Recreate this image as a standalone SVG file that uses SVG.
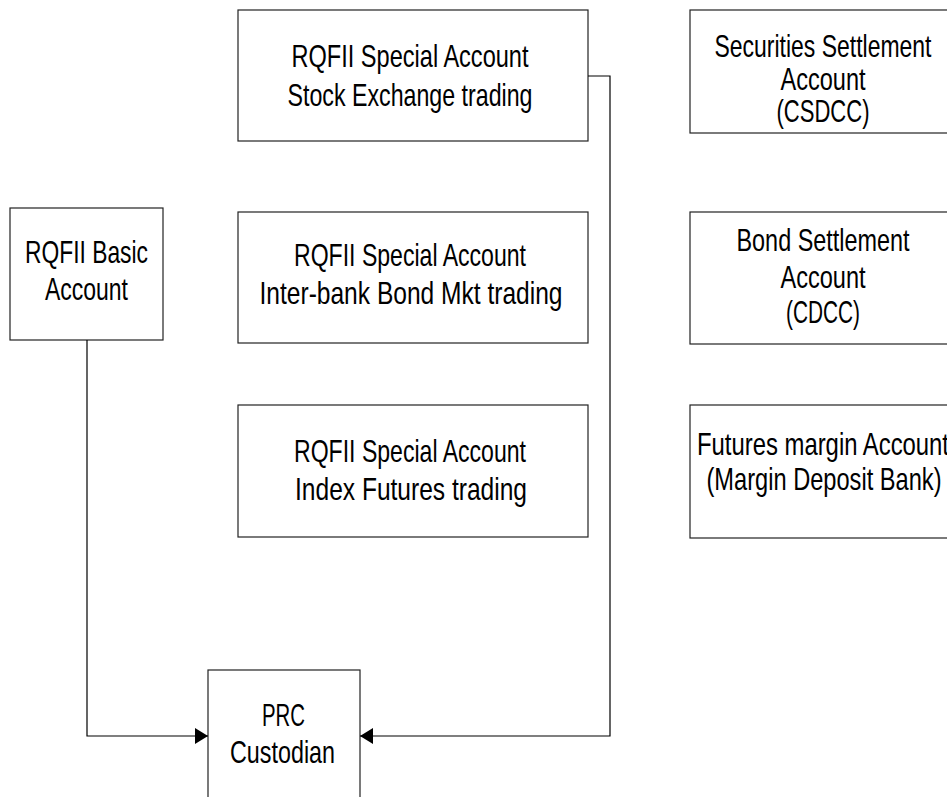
<svg xmlns="http://www.w3.org/2000/svg" width="947" height="797" viewBox="0 0 947 797">
<style>
rect.box{fill:#fff;stroke:#222;stroke-width:1.2}
text{font-family:"Liberation Sans Narrow","Liberation Sans",Arial,sans-serif;font-size:32px;fill:#000;text-anchor:middle}
.conn{fill:none;stroke:#000;stroke-width:1.2}
</style>
<defs>
<marker id="arr" markerUnits="userSpaceOnUse" markerWidth="14" markerHeight="18" viewBox="0 0 14 18" refX="13" refY="9" orient="auto">
<path d="M0,1 L13,9 L0,17 Z" fill="#000"/>
</marker>
</defs>
<rect width="947" height="797" fill="#fff"/>
<g id="stock">
<rect class="box" x="238" y="10" width="350" height="131"/>
<text x="410" y="67" textLength="237" lengthAdjust="spacingAndGlyphs">RQFII Special Account</text>
<text x="410" y="106" textLength="245" lengthAdjust="spacingAndGlyphs">Stock Exchange trading</text>
</g>
<g id="interbank">
<rect class="box" x="238" y="212" width="350" height="131"/>
<text x="410" y="266" textLength="232" lengthAdjust="spacingAndGlyphs">RQFII Special Account</text>
<text x="411" y="304" textLength="303" lengthAdjust="spacingAndGlyphs">Inter-bank Bond Mkt trading</text>
</g>
<g id="futures">
<rect class="box" x="238" y="405" width="350" height="132"/>
<text x="410" y="462" textLength="232" lengthAdjust="spacingAndGlyphs">RQFII Special Account</text>
<text x="411" y="500" textLength="232" lengthAdjust="spacingAndGlyphs">Index Futures trading</text>
</g>
<g id="sec">
<rect class="box" x="690" y="10" width="270" height="123"/>
<text x="823" y="57" textLength="217" lengthAdjust="spacingAndGlyphs">Securities Settlement</text>
<text x="823" y="90" textLength="85" lengthAdjust="spacingAndGlyphs">Account</text>
<text x="823" y="122" textLength="93" lengthAdjust="spacingAndGlyphs">(CSDCC)</text>
</g>
<g id="bond">
<rect class="box" x="690" y="212" width="270" height="132"/>
<text x="823" y="251" textLength="173" lengthAdjust="spacingAndGlyphs">Bond Settlement</text>
<text x="823" y="288" textLength="85" lengthAdjust="spacingAndGlyphs">Account</text>
<text x="823" y="323" textLength="74" lengthAdjust="spacingAndGlyphs">(CDCC)</text>
</g>
<g id="margin">
<rect class="box" x="690" y="405" width="270" height="133"/>
<text x="823" y="455" textLength="252" lengthAdjust="spacingAndGlyphs">Futures margin Account</text>
<text x="824" y="490" textLength="235" lengthAdjust="spacingAndGlyphs">(Margin Deposit Bank)</text>
</g>
<g id="basic">
<rect class="box" x="10" y="208" width="153" height="132"/>
<text x="86.5" y="263" textLength="123" lengthAdjust="spacingAndGlyphs">RQFII Basic</text>
<text x="86.5" y="300" textLength="83" lengthAdjust="spacingAndGlyphs">Account</text>
</g>
<g id="prc">
<rect class="box" x="208" y="670" width="152" height="140"/>
<text x="283.5" y="726" textLength="43" lengthAdjust="spacingAndGlyphs">PRC</text>
<text x="282.5" y="763" textLength="105" lengthAdjust="spacingAndGlyphs">Custodian</text>
</g>
<g id="connectors">
<path class="conn" d="M588,76 H610 V736 H360" marker-end="url(#arr)"/>
<path class="conn" d="M87,340 V736 H208" marker-end="url(#arr)"/>
</g>
</svg>
